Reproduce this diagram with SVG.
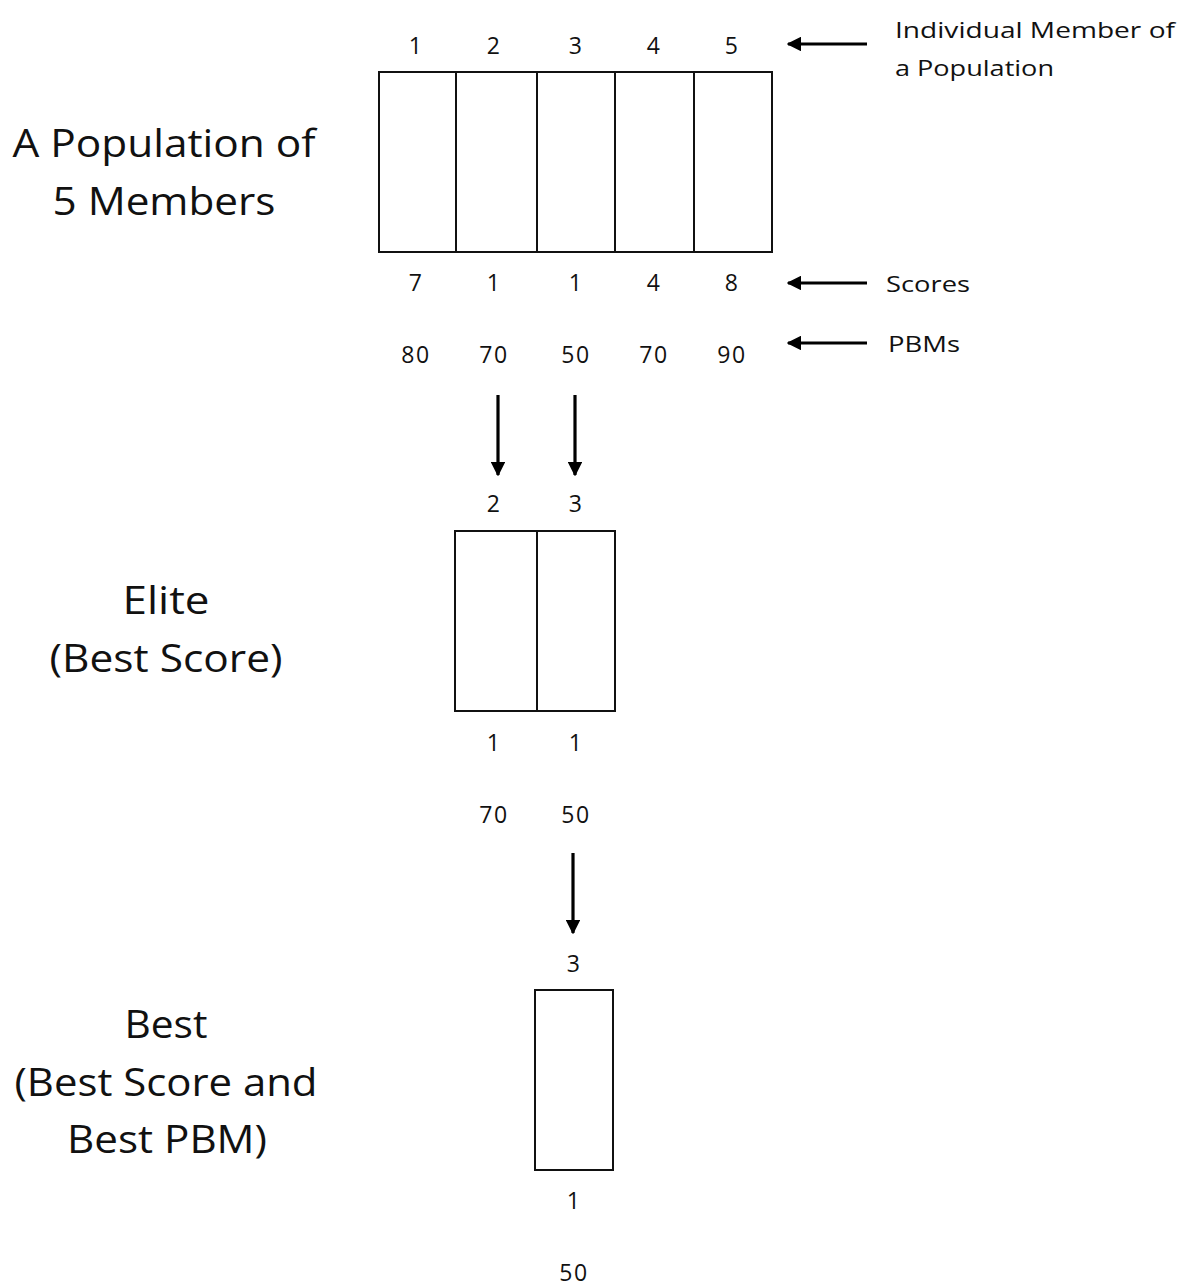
<svg xmlns="http://www.w3.org/2000/svg" width="1180" height="1286" viewBox="0 0 1180 1286">
  <defs>
    <marker id="head" viewBox="0 0 10 10" refX="9" refY="5" markerWidth="4.6" markerHeight="4.6" orient="auto" markerUnits="strokeWidth">
      <path d="M0,0 L10,5 L0,10 z" fill="#000"/>
    </marker>
    <style>
      .box { fill: #fff; stroke: #111; stroke-width: 2; }
      .div { stroke: #111; stroke-width: 2; }
      .num { font-family: "Open Sans", "Liberation Sans", sans-serif; font-size: 23px; fill: #111; text-anchor: middle; letter-spacing: 1.5px; }
      .note { font-family: "Open Sans", "Liberation Sans", sans-serif; font-size: 22px; fill: #111; }
      .title { font-family: "Open Sans", "Liberation Sans", sans-serif; font-size: 39px; fill: #111; text-anchor: middle; }
      .arrow { stroke: #000; stroke-width: 3.2; fill: none; marker-end: url(#head); }
    </style>
  </defs>
  <rect width="1180" height="1286" fill="#fff"/>

  <!-- Section titles -->
  <g id="title-population">
    <text class="title" x="164" y="157" textLength="303" lengthAdjust="spacingAndGlyphs">A Population of</text>
    <text class="title" x="164" y="215" textLength="223" lengthAdjust="spacingAndGlyphs">5 Members</text>
  </g>
  <g id="title-elite">
    <text class="title" x="166" y="614" textLength="87" lengthAdjust="spacingAndGlyphs">Elite</text>
    <text class="title" x="166" y="672" textLength="233" lengthAdjust="spacingAndGlyphs">(Best Score)</text>
  </g>
  <g id="title-best">
    <text class="title" x="166" y="1038" textLength="83" lengthAdjust="spacingAndGlyphs">Best</text>
    <text class="title" x="166" y="1096" textLength="303" lengthAdjust="spacingAndGlyphs">(Best Score and</text>
    <text class="title" x="167" y="1153" textLength="200" lengthAdjust="spacingAndGlyphs">Best PBM)</text>
  </g>

  <!-- Full population: five members -->
  <g id="population">
    <rect class="box" x="379" y="72" width="393" height="180"/>
    <line class="div" x1="456" y1="72" x2="456" y2="252"/>
    <line class="div" x1="537" y1="72" x2="537" y2="252"/>
    <line class="div" x1="615" y1="72" x2="615" y2="252"/>
    <line class="div" x1="694" y1="72" x2="694" y2="252"/>
    <text class="num" x="416" y="54">1</text>
    <text class="num" x="494" y="54">2</text>
    <text class="num" x="576" y="54">3</text>
    <text class="num" x="654" y="54">4</text>
    <text class="num" x="732" y="54">5</text>
    <text class="num" x="416" y="291">7</text>
    <text class="num" x="494" y="291">1</text>
    <text class="num" x="576" y="291">1</text>
    <text class="num" x="654" y="291">4</text>
    <text class="num" x="732" y="291">8</text>
    <text class="num" x="416" y="363">80</text>
    <text class="num" x="494" y="363">70</text>
    <text class="num" x="576" y="363">50</text>
    <text class="num" x="654" y="363">70</text>
    <text class="num" x="732" y="363">90</text>
  </g>

  <!-- Row annotations -->
  <g id="note-member">
    <text class="note" x="895" y="38" textLength="280" lengthAdjust="spacingAndGlyphs">Individual Member of</text>
    <text class="note" x="895" y="76" textLength="159" lengthAdjust="spacingAndGlyphs">a Population</text>
  </g>
  <g id="note-scores">
    <text class="note" x="886" y="292" textLength="84" lengthAdjust="spacingAndGlyphs">Scores</text>
  </g>
  <g id="note-pbms">
    <text class="note" x="888" y="352" textLength="72" lengthAdjust="spacingAndGlyphs">PBMs</text>
  </g>

  <!-- Elite: members with the best score -->
  <g id="elite">
    <rect class="box" x="455" y="531" width="160" height="180"/>
    <line class="div" x1="537" y1="531" x2="537" y2="711"/>
    <text class="num" x="494" y="512">2</text>
    <text class="num" x="576" y="512">3</text>
    <text class="num" x="494" y="751">1</text>
    <text class="num" x="576" y="751">1</text>
    <text class="num" x="494" y="823">70</text>
    <text class="num" x="576" y="823">50</text>
  </g>

  <!-- Best: best score and best PBM -->
  <g id="best">
    <rect class="box" x="535" y="990" width="78" height="180"/>
    <text class="num" x="574" y="972">3</text>
    <text class="num" x="574" y="1209">1</text>
    <text class="num" x="574" y="1281">50</text>
  </g>

  <!-- Connectors -->
  <g id="connectors">
    <line class="arrow" x1="867" y1="44" x2="788" y2="44"/>
    <line class="arrow" x1="867" y1="283" x2="788" y2="283"/>
    <line class="arrow" x1="867" y1="343" x2="788" y2="343"/>
    <line class="arrow" x1="498" y1="395" x2="498" y2="475"/>
    <line class="arrow" x1="575" y1="395" x2="575" y2="475"/>
    <line class="arrow" x1="573" y1="853" x2="573" y2="933"/>
  </g>
</svg>
